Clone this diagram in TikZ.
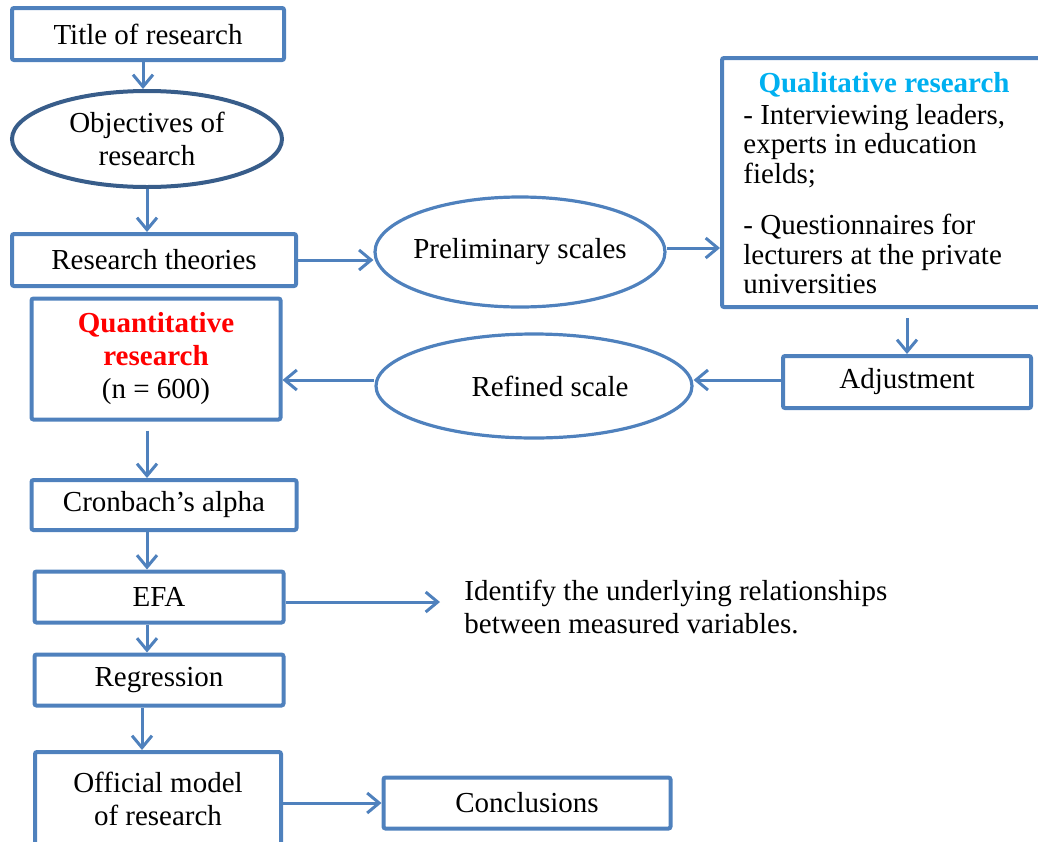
\documentclass[tikz,border=0pt]{standalone}
\usepackage{fontspec}
\setmainfont{Liberation Serif}
\usepackage{xcolor}
\usepackage{tikz}
\usetikzlibrary{shapes,arrows.meta,positioning,calc}

\definecolor{boxblue}{HTML}{4F81BD}
\definecolor{darkblue}{HTML}{385D8A}
\definecolor{qualcyan}{HTML}{00B0F0}

\tikzset{
    box/.style={draw=boxblue, line width=2pt, rounded corners=1pt, inner sep=0pt, align=center},
    oval/.style={ellipse, draw=boxblue, line width=1.6pt, inner sep=0pt, align=center},
    arr/.style={draw=boxblue, line width=1.5pt, -{Straight Barb[length=6pt,width=10pt]}}
}

\begin{document}
\begin{tikzpicture}[x=0.5pt, y=-0.5pt, font=\fontsize{14.5}{16.5}\selectfont]
    \useasboundingbox (0,0) rectangle (1038,841);
    \clip (0,0) rectangle (1038,841);

    % Left column
    \node[box, minimum width=136pt, minimum height=26pt] (title) at (148,34) {Title of research};
    \node[oval, draw=darkblue, line width=2pt, minimum width=135pt, minimum height=48pt] (obj) at (147,139) {Objectives of\\research};
    \node[box, minimum width=142pt, minimum height=26pt] (theories) at (154,260) {Research theories};
    \node[box, minimum width=124.5pt, minimum height=60.5pt] (quant) at (156,359)
        {\textcolor{red}{\textbf{Quantitative}}\\\textcolor{red}{\textbf{research}}\\(n = 600)};
    \node[box, minimum width=132.5pt, minimum height=25pt] (cronbach) at (164,505) {Cronbach’s alpha};
    \node[box, minimum width=124.5pt, minimum height=25.5pt] (efa) at (159,597) {EFA};
    \node[box, minimum width=124.5pt, minimum height=25.5pt] (regr) at (159,680) {Regression};
    \node[box, minimum width=123pt, minimum height=47pt] (official) at (158,799) {Official model\\of research};

    % Middle and right
    \node[oval, inner xsep=-3pt, minimum width=145pt, minimum height=55pt] (prelim) at (520,252) {Preliminary scales};
    \node[oval, minimum width=158pt, minimum height=52pt] (refined) at (534,386) {\hspace*{16pt}Refined scale};
    \node[box, minimum width=165pt, minimum height=124.5pt] (qual) at (887,182.5) {};
    \node[font=\fontsize{14.5}{16.5}\selectfont\bfseries, text=qualcyan, inner sep=0pt] (qualtitle) at (884,85) {Qualitative research};
    \node[anchor=north west, inner sep=0pt, align=left,
          font=\fontsize{14.5}{14.7}\selectfont] (qualtext) at (743,104)
        {- Interviewing leaders,\\experts in education\\fields;\\[11pt]- Questionnaires for\\lecturers at the private\\universities};
    \node[box, minimum width=124pt, minimum height=26pt] (adjust) at (907,382) {Adjustment};
    \node[anchor=west, inner sep=0pt, align=left] (efanote) at (464,607)
        {Identify the underlying relationships\\between measured variables.};
    \node[box, minimum width=143.5pt, minimum height=25.5pt] (concl) at (527,803) {Conclusions};

    % Vertical arrows
    \foreach \a/\b/\x in {title/obj/143, obj/theories/147, cronbach/efa/147, efa/regr/147, regr/official/142}
        \draw[arr] (\a.south -| \x,0) -- (\b.north -| \x,0);
    \draw[arr, shorten <=4.5pt] (quant.south -| 147,0) -- (cronbach.north -| 147,0);
    \draw[arr, shorten <=4.5pt] (qual.south -| adjust.north) -- (adjust.north);

    % Horizontal arrows
    \draw[arr] (theories.east) -- (theories.east -| prelim.west);
    \draw[arr] (prelim.east |- 0,248) -- (qual.west |- 0,248);
    \draw[arr] (adjust.west |- 0,380) -- (refined.east |- 0,380);
    \draw[arr] (refined.west |- 0,380) -- (quant.east |- 0,380);
    \draw[arr, shorten >=12pt] (efa.east |- 0,602) -- (efanote.west |- 0,602);
    \draw[arr] (official.east |- concl.west) -- (concl.west);
\end{tikzpicture}
\end{document}
